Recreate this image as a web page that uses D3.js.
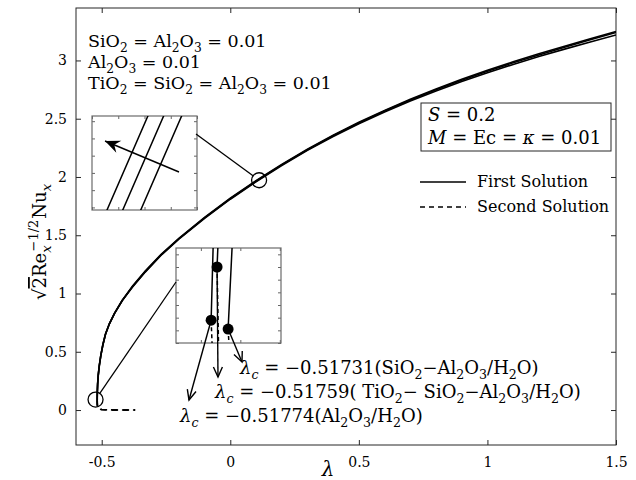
<!DOCTYPE html>
<html>
<head>
<meta charset="utf-8">
<script src="https://cdn.jsdelivr.net/npm/d3@7"></script>
<style>
  body { margin: 0; background: #fff; }
  text { font-family: "DejaVu Serif", "Liberation Serif", serif; fill: #000; }
</style>
</head>
<body>
<div id="chart"></div>
<script>
// ---- data ----
var xTicks = [-0.5, 0, 0.5, 1, 1.5];
var yTicks = [0, 0.5, 1, 1.5, 2, 2.5, 3];
var xDomain = [-0.6, 1.5];
var yDomain = [-0.3, 3.45];

// critical values (turning points)
var lambdaC = [-0.51774, -0.51759, -0.51731]; // Al2O3, TiO2-SiO2-Al2O3, SiO2-Al2O3

// first solution, [lambda, sqrt(2)Re^-1/2 Nu]
var firstAl2O3 = [[-0.51774, 0.0836], [-0.51769, 0.095], [-0.5173, 0.15], [-0.5161, 0.22], [-0.5136, 0.30],
  [-0.5096, 0.38], [-0.5036, 0.47], [-0.4956, 0.56], [-0.4856, 0.65], [-0.4704, 0.74], [-0.4504, 0.83],
  [-0.4204, 0.94], [-0.38, 1.056], [-0.33, 1.186], [-0.27, 1.326], [-0.2, 1.466], [-0.1, 1.6455],
  [0, 1.809], [0.1, 1.9587], [0.2, 2.0987], [0.3, 2.228], [0.4, 2.347], [0.5, 2.456], [0.6, 2.557],
  [0.7, 2.651], [0.8, 2.738], [0.9, 2.819], [1.0, 2.895], [1.1, 2.966], [1.2, 3.033], [1.3, 3.097],
  [1.4, 3.159], [1.5, 3.219]];
var firstTernary = [[-0.51759, 0.092], [-0.51757, 0.095], [-0.5172, 0.15], [-0.516, 0.22], [-0.5135, 0.30],
  [-0.5095, 0.38], [-0.5035, 0.47], [-0.4955, 0.56], [-0.4855, 0.65], [-0.4703, 0.74], [-0.4503, 0.83],
  [-0.4203, 0.94], [-0.38, 1.064], [-0.33, 1.194], [-0.27, 1.334], [-0.2, 1.474], [-0.1, 1.6542],
  [0, 1.8177], [0.1, 1.9677], [0.2, 2.1077], [0.3, 2.238], [0.4, 2.3585], [0.5, 2.469], [0.6, 2.5715],
  [0.7, 2.667], [0.8, 2.7555], [0.9, 2.838], [1.0, 2.9155], [1.1, 2.988], [1.2, 3.0565], [1.3, 3.1225],
  [1.4, 3.187], [1.5, 3.248]];
var firstSiAl = [[-0.51731, 0.0822], [-0.51721, 0.095], [-0.5169, 0.15], [-0.5157, 0.22], [-0.5132, 0.30],
  [-0.5092, 0.38], [-0.5032, 0.47], [-0.4952, 0.56], [-0.4852, 0.65], [-0.47, 0.74], [-0.45, 0.83],
  [-0.42, 0.94], [-0.38, 1.06], [-0.33, 1.19], [-0.27, 1.33], [-0.2, 1.47], [-0.1, 1.65],
  [0, 1.8135], [0.1, 1.9635], [0.2, 2.1035], [0.3, 2.2335], [0.4, 2.3535], [0.5, 2.4635], [0.6, 2.5655],
  [0.7, 2.6605], [0.8, 2.7485], [0.9, 2.8305], [1.0, 2.9075], [1.1, 2.9795], [1.2, 3.0475], [1.3, 3.113],
  [1.4, 3.177], [1.5, 3.24]];

// second solution
var secondAl2O3 = [[-0.51774, 0.0836], [-0.51771, 0.079], [-0.5176, 0.065], [-0.5172, 0.045], [-0.516, 0.028],
  [-0.513, 0.015], [-0.508, 0.008], [-0.5, 0.004], [-0.47, 0.0015], [-0.43, 0.0005], [-0.37, 0]];
var secondTernary = [[-0.51759, 0.092], [-0.51755, 0.079], [-0.5174, 0.065], [-0.517, 0.045], [-0.5158, 0.028],
  [-0.5128, 0.015], [-0.5078, 0.008], [-0.5, 0.004], [-0.47, 0.0015], [-0.43, 0.0005], [-0.37, 0]];
var secondSiAl = [[-0.51731, 0.0822], [-0.51728, 0.079], [-0.5172, 0.065], [-0.5168, 0.045], [-0.5156, 0.028],
  [-0.5126, 0.015], [-0.5076, 0.008], [-0.5, 0.004], [-0.47, 0.0015], [-0.43, 0.0005], [-0.37, 0]];

var firstSeries = [firstAl2O3, firstTernary, firstSiAl];
var secondSeries = [secondAl2O3, secondTernary, secondSiAl];

var concLines = ["SiO_2 = Al_2O_3 = 0.01", "Al_2O_3 = 0.01", "TiO_2 = SiO_2 = Al_2O_3 = 0.01"];
var paramLines = ["$S$ = 0.2", "$M$ = Ec = $κ$ = 0.01"];
var legendNames = ["First Solution", "Second Solution"];
var lambdaCLabels = [
  "$λ_c$ = −0.51774(Al_2O_3/H_2O)",
  "$λ_c$ = −0.51759( TiO_2− SiO_2−Al_2O_3/H_2O)",
  "$λ_c$ = −0.51731(SiO_2−Al_2O_3/H_2O)"
];

// ---- layout ----
var W = 636, H = 480;
var margin = {left: 76, right: 20, top: 8, bottom: 35};
var innerW = W - margin.left - margin.right;
var innerH = H - margin.top - margin.bottom;

var svg = d3.select("#chart").append("svg")
    .attr("width", W)
    .attr("height", H);

var defs = svg.append("defs");

defs.append("marker")
    .attr("id", "vhead")
    .attr("viewBox", "-12 -7 14 14")
    .attr("markerWidth", 14).attr("markerHeight", 14)
    .attr("markerUnits", "userSpaceOnUse")
    .attr("refX", 0).attr("refY", 0)
    .attr("orient", "auto")
  .append("path")
    .attr("d", "M-10,-4.5L0,0L-10,4.5")
    .attr("fill", "none")
    .attr("stroke", "#000")
    .attr("stroke-width", 1.4);

defs.append("marker")
    .attr("id", "fhead")
    .attr("viewBox", "-16 -8 18 16")
    .attr("markerWidth", 18).attr("markerHeight", 16)
    .attr("markerUnits", "userSpaceOnUse")
    .attr("refX", 0).attr("refY", 0)
    .attr("orient", "auto")
  .append("path")
    .attr("d", "M0,0L-15,-6.5L-10,0L-15,6.5Z")
    .attr("fill", "#000");

function mathParts(str) {
  var parts = [], it = false, i = 0, buf = "";
  function flush() { if (buf) parts.push({t: buf, m: 0, it: it}); buf = ""; }
  while (i < str.length) {
    var c = str[i];
    if (c === "$") { flush(); it = !it; i++; }
    else if (c === "_" || c === "^") {
      flush();
      var t;
      if (str[i + 1] === "{") { var j = str.indexOf("}", i); t = str.slice(i + 2, j); i = j + 1; }
      else { t = str[i + 1]; i += 2; }
      parts.push({t: t, m: c === "_" ? 1 : -1, it: it});
    } else { buf += c; i++; }
  }
  flush();
  return parts;
}

function mathText(g, str, px, py, size, anchor) {
  var t = g.append("text")
      .attr("x", px).attr("y", py)
      .attr("font-size", size)
      .style("white-space", "pre");
  if (anchor) t.attr("text-anchor", anchor);
  var cur = 0, prev = 0;
  mathParts(str).forEach(function(p) {
    var off = p.m === 1 ? size * 0.28 : p.m === -1 ? -size * 0.42 : 0;
    var ts = t.append("tspan").attr("dy", off - cur).text(p.t);
    if (p.m === -1 && prev === 1) ts.attr("dx", -size * 0.4);
    cur = off; prev = p.m;
    if (p.m) ts.attr("font-size", size * 0.7);
    if (p.it) ts.attr("font-style", "italic");
  });
  if (cur) t.append("tspan").attr("dy", -cur).text("");
  return t;
}

var g = svg.append("g")
    .attr("transform", "translate(" + margin.left + "," + margin.top + ")");

var x = d3.scaleLinear().domain(xDomain).range([0, innerW]);
var y = d3.scaleLinear().domain(yDomain).range([innerH, 0]);

defs.append("clipPath").attr("id", "plotclip")
  .append("rect").attr("width", innerW).attr("height", innerH);

// axes
function styleAxis(sel) {
  sel.select(".domain").remove();
  sel.selectAll(".tick line").attr("stroke", "#262626");
  sel.selectAll(".tick text").attr("font-size", 14).attr("fill", "#262626")
      .style("font-family", "DejaVu Serif");
}
var fmt = function(d) { return String(d); };

g.append("g").attr("transform", "translate(0," + innerH + ")")
    .call(d3.axisBottom(x).tickValues(xTicks).tickSizeInner(-5).tickSizeOuter(0).tickPadding(12).tickFormat(fmt))
    .call(styleAxis);
g.append("g")
    .call(d3.axisTop(x).tickValues(xTicks).tickSizeInner(-5).tickSizeOuter(0).tickFormat(""))
    .call(styleAxis);
g.append("g")
    .call(d3.axisLeft(y).tickValues(yTicks).tickSizeInner(-5).tickSizeOuter(0).tickPadding(9).tickFormat(fmt))
    .call(styleAxis);
g.append("g").attr("transform", "translate(" + innerW + ",0)")
    .call(d3.axisRight(y).tickValues(yTicks).tickSizeInner(-5).tickSizeOuter(0).tickFormat(""))
    .call(styleAxis);

g.append("rect")
    .attr("width", innerW).attr("height", innerH)
    .attr("fill", "none").attr("stroke", "#262626").attr("stroke-width", 1);

// curves
var line = d3.line().x(function(d) { return x(d[0]); }).y(function(d) { return y(d[1]); });
var plot = g.append("g").attr("clip-path", "url(#plotclip)");

plot.selectAll(".first").data(firstSeries).enter().append("path")
    .attr("class", "first")
    .attr("d", line)
    .attr("fill", "none").attr("stroke", "#000").attr("stroke-width", 1.6);

plot.selectAll(".second").data(secondSeries).enter().append("path")
    .attr("class", "second")
    .attr("d", line)
    .attr("fill", "none").attr("stroke", "#000").attr("stroke-width", 1.6)
    .attr("stroke-dasharray", "6,5");

// circles marking zoomed regions
var zoomSpots = [[0.112, 1.972], [-0.524, 0.09]];
g.selectAll(".spot").data(zoomSpots).enter().append("circle")
    .attr("class", "spot")
    .attr("cx", function(d) { return x(d[0]); })
    .attr("cy", function(d) { return y(d[1]); })
    .attr("r", 7.5)
    .attr("fill", "none").attr("stroke", "#000").attr("stroke-width", 1.3);

// ---- insets (page coordinates) ----
function drawInset(box, xd, yd, id) {
  var ig = svg.append("g").attr("transform", "translate(" + box.x + "," + box.y + ")");
  var xi = d3.scaleLinear().domain(xd).range([0, box.w]);
  var yi = d3.scaleLinear().domain(yd).range([box.h, 0]);
  defs.append("clipPath").attr("id", id)
    .append("rect").attr("width", box.w).attr("height", box.h);
  ig.append("rect").attr("width", box.w).attr("height", box.h).attr("fill", "#fff");
  var ax = [
    ig.append("g").attr("transform", "translate(0," + box.h + ")").call(d3.axisBottom(xi).ticks(3).tickSizeInner(-3).tickSizeOuter(0).tickFormat("")),
    ig.append("g").call(d3.axisTop(xi).ticks(3).tickSizeInner(-3).tickSizeOuter(0).tickFormat("")),
    ig.append("g").call(d3.axisLeft(yi).ticks(6).tickSizeInner(-3).tickSizeOuter(0).tickFormat("")),
    ig.append("g").attr("transform", "translate(" + box.w + ",0)").call(d3.axisRight(yi).ticks(6).tickSizeInner(-3).tickSizeOuter(0).tickFormat(""))
  ];
  ax.forEach(function(a) {
    a.select(".domain").remove();
    a.selectAll(".tick line").attr("stroke", "#666");
  });
  ig.append("rect").attr("width", box.w).attr("height", box.h)
      .attr("fill", "none").attr("stroke", "#6b6b6b").attr("stroke-width", 1.2);
  var inner = ig.append("g").attr("clip-path", "url(#" + id + ")");
  var iline = d3.line().x(function(d) { return xi(d[0]); }).y(function(d) { return yi(d[1]); });
  return {g: ig, inner: inner, x: xi, y: yi, line: iline, box: box};
}

// inset 1: zoom around lambda ~ 0.11
var in1 = drawInset({x: 92, y: 116, w: 105, h: 94}, [0.1, 0.12], [1.9717, 1.9826], "clip1");
in1.inner.selectAll("path").data(firstSeries).enter().append("path")
    .attr("d", in1.line)
    .attr("fill", "none").attr("stroke", "#000").attr("stroke-width", 1.5);
svg.append("line")
    .attr("x1", 179).attr("y1", 172).attr("x2", 105).attr("y2", 141)
    .attr("stroke", "#000").attr("stroke-width", 1.4)
    .attr("marker-end", "url(#fhead)");

// inset 2: zoom around turning points
var in2 = drawInset({x: 176, y: 248, w: 105, h: 95}, [-0.51863, -0.51597], [0.08, 0.095], "clip2");
in2.inner.selectAll(".f").data(firstSeries).enter().append("path")
    .attr("class", "f")
    .attr("d", in2.line)
    .attr("fill", "none").attr("stroke", "#000").attr("stroke-width", 1.5);
in2.inner.selectAll(".s").data(secondSeries).enter().append("path")
    .attr("class", "s")
    .attr("d", in2.line)
    .attr("fill", "none").attr("stroke", "#000").attr("stroke-width", 1.5)
    .attr("stroke-dasharray", "4,3");
var turnPts = firstSeries.map(function(s) { return s[0]; });
in2.g.selectAll(".dot").data(turnPts).enter().append("circle")
    .attr("class", "dot")
    .attr("cx", function(d) { return in2.x(d[0]); })
    .attr("cy", function(d) { return in2.y(d[1]); })
    .attr("r", 5.5)
    .attr("fill", "#000");

// connectors from insets to circles
function spotPage(d) { return [margin.left + x(d[0]), margin.top + y(d[1])]; }
function connector(from, spot) {
  var c = spotPage(spot);
  var dx = c[0] - from[0], dy = c[1] - from[1], len = Math.sqrt(dx * dx + dy * dy);
  svg.append("line")
      .attr("x1", from[0]).attr("y1", from[1])
      .attr("x2", c[0] - dx / len * 7.5).attr("y2", c[1] - dy / len * 7.5)
      .attr("stroke", "#000").attr("stroke-width", 1.3);
}
connector([196, 134], zoomSpots[0]);
connector([176, 282], zoomSpots[1]);

// arrows from turning-point dots to the labels
var arrowTips = [[189, 400], [218, 377], [242, 362]];
turnPts.forEach(function(d, i) {
  svg.append("line")
      .attr("x1", in2.box.x + in2.x(d[0]))
      .attr("y1", in2.box.y + in2.y(d[1]))
      .attr("x2", arrowTips[i][0]).attr("y2", arrowTips[i][1])
      .attr("stroke", "#000").attr("stroke-width", 1.4)
      .attr("marker-end", "url(#vhead)");
});

// ---- texts ----
var labelPos = [[180, 422], [215, 398], [240, 374]];
lambdaCLabels.forEach(function(s, i) {
  mathText(svg, s, labelPos[i][0], labelPos[i][1], 18);
});

concLines.forEach(function(s, i) {
  mathText(svg, s, 88, 47 + i * 21, 17.5);
});

svg.append("rect")
    .attr("x", 421).attr("y", 103).attr("width", 190).attr("height", 48)
    .attr("fill", "#fff").attr("stroke", "#262626").attr("stroke-width", 1);
paramLines.forEach(function(s, i) {
  mathText(svg, s, 428, 121 + i * 23, 18);
});

// legend
legendNames.forEach(function(name, i) {
  var ly = 182 + i * 25;
  svg.append("line")
      .attr("x1", 420).attr("x2", 466).attr("y1", ly).attr("y2", ly)
      .attr("stroke", "#000").attr("stroke-width", 1.6)
      .attr("stroke-dasharray", i ? "5,4" : null);
  svg.append("text")
      .attr("x", 477).attr("y", ly + 5)
      .attr("font-size", 16)
      .text(name);
});

// axis labels
mathText(svg, "$λ$", 328, 476, 20, "middle");

var yl = svg.append("text")
    .attr("transform", "translate(46,300) rotate(-90)")
    .attr("font-size", 18)
    .style("white-space", "pre");
yl.append("tspan").text("√");
yl.append("tspan").style("text-decoration", "overline").text("2");
yl.append("tspan").text("Re");
yl.append("tspan").attr("dy", 5).attr("font-size", 13).attr("font-style", "italic").text("x");
yl.append("tspan").attr("dy", -13).attr("dx", -6).attr("font-size", 13).text("−1/2");
yl.append("tspan").attr("dy", 8).attr("dx", 1).text("Nu");
yl.append("tspan").attr("dy", 5).attr("font-size", 13).attr("font-style", "italic").text("x");
</script>
</body>
</html>
